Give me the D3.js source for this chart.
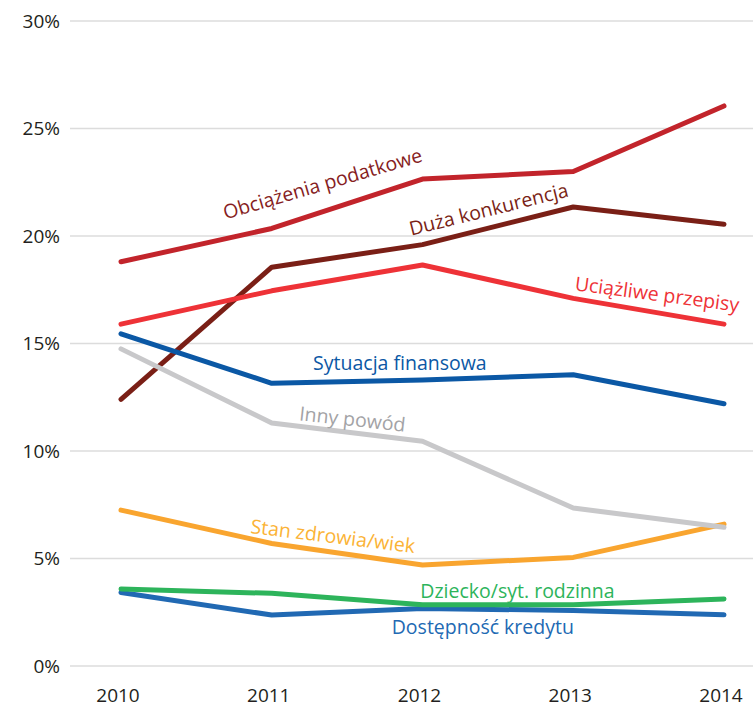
<!DOCTYPE html>
<html>
<head>
<meta charset="utf-8">
<script src="https://cdn.jsdelivr.net/npm/d3@7"></script>
<style>
  body { margin: 0; background: #fff; }
  svg text { font-family: "Open Sans", "Noto Sans", sans-serif; }
</style>
</head>
<body>
<script>
// chart size = browser window
var width = 753,
    height = 707;

// years on the x axis
var years = [2010, 2011, 2012, 2013, 2014];

// y ticks (percent)
var yTicks = [0, 5, 10, 15, 20, 25, 30];

// series values (percent)
var obciazenia   = [18.8, 20.35, 22.65, 23.0, 26.05];
var konkurencja  = [12.4, 18.55, 19.6, 21.35, 20.55];
var przepisy     = [15.9, 17.45, 18.65, 17.1, 15.9];
var finansowa    = [15.45, 13.15, 13.3, 13.55, 12.2];
var innyPowod    = [14.75, 11.3, 10.45, 7.35, 6.45];
var zdrowie      = [7.25, 5.7, 4.7, 5.05, 6.6];
var dziecko      = [3.58, 3.38, 2.85, 2.85, 3.12];
var kredyt       = [3.42, 2.37, 2.68, 2.58, 2.38];

// series names
var names = ['Obciążenia podatkowe', 'Duża konkurencja', 'Uciążliwe przepisy',
             'Sytuacja finansowa', 'Inny powód', 'Stan zdrowia/wiek',
             'Dziecko/syt. rodzinna', 'Dostępność kredytu'];

var series = [obciazenia, konkurencja, przepisy, finansowa, innyPowod, zdrowie, dziecko, kredyt];

// styles, same order as names
var lineColors  = ['#c2242b', '#7a1f16', '#ee3237', '#0b58a5', '#c8c8ca', '#f9a52f', '#2db45b', '#2169b3'];
var labelColors = ['#861d22', '#7a1f16', '#ee3237', '#0b58a5', '#a3a3a6', '#fbb336', '#2db45b', '#2169b3'];

// which line goes on top of which
var drawOrder = [0, 1, 2, 3, 5, 4, 7, 6];

// label placement: [fractional year, value, angle]
var labelPos = [
  [2011.35, 22.12, -16.4],
  [2012.45, 20.93, -14],
  [2013.55, 16.98, 7.5],
  [2011.85, 13.77, 0],
  [2011.53, 11.16, 6.3],
  [2011.4, 5.72, 7],
  [2012.63, 3.16, 0],
  [2012.4, 1.49, 0]
];

var x = d3.scaleLinear()
    .domain([2010, 2014])
    .range([121, 724]);

var y = d3.scaleLinear()
    .domain([0, 30])
    .range([666, 21]);

var svg = d3.select('body')
    .append('svg')
    .attr('width', width)
    .attr('height', height);

// horizontal grid
svg.append('g')
    .selectAll('line')
    .data(yTicks)
    .enter().append('line')
        .attr('x1', 70)
        .attr('x2', width)
        .attr('y1', function(d) { return y(d); })
        .attr('y2', function(d) { return y(d); })
        .attr('stroke', '#dcdcdc')
        .attr('stroke-width', 1.5);

// y axis labels
svg.append('g')
    .selectAll('text')
    .data(yTicks)
    .enter().append('text')
        .attr('x', 60)
        .attr('y', function(d) { return y(d); })
        .attr('dy', '0.35em')
        .attr('text-anchor', 'end')
        .attr('font-size', 19)
        .attr('fill', '#231f20')
        .text(function(d) { return d + '%'; });

// x axis labels
svg.append('g')
    .selectAll('text')
    .data(years)
    .enter().append('text')
        .attr('x', function(d) { return x(d) - 3; })
        .attr('y', 702)
        .attr('text-anchor', 'middle')
        .attr('font-size', 19)
        .attr('fill', '#231f20')
        .text(function(d) { return d; });

var line = d3.line()
    .x(function(d, i) { return x(years[i]); })
    .y(function(d) { return y(d); });

// lines
svg.append('g')
    .selectAll('path')
    .data(drawOrder)
    .enter().append('path')
        .attr('d', function(k) { return line(series[k]); })
        .attr('fill', 'none')
        .attr('stroke', function(k) { return lineColors[k]; })
        .attr('stroke-width', 5)
        .attr('stroke-linecap', 'round')
        .attr('stroke-linejoin', 'round');

// line labels
svg.append('g')
    .selectAll('text')
    .data(names)
    .enter().append('text')
        .attr('transform', function(d, i) {
            var p = labelPos[i];
            return 'translate(' + x(p[0]) + ',' + y(p[1]) + ') rotate(' + p[2] + ')';
        })
        .attr('text-anchor', 'middle')
        .attr('font-size', 19.5)
        .attr('fill', function(d, i) { return labelColors[i]; })
        .text(function(d) { return d; });
</script>
</body>
</html>
